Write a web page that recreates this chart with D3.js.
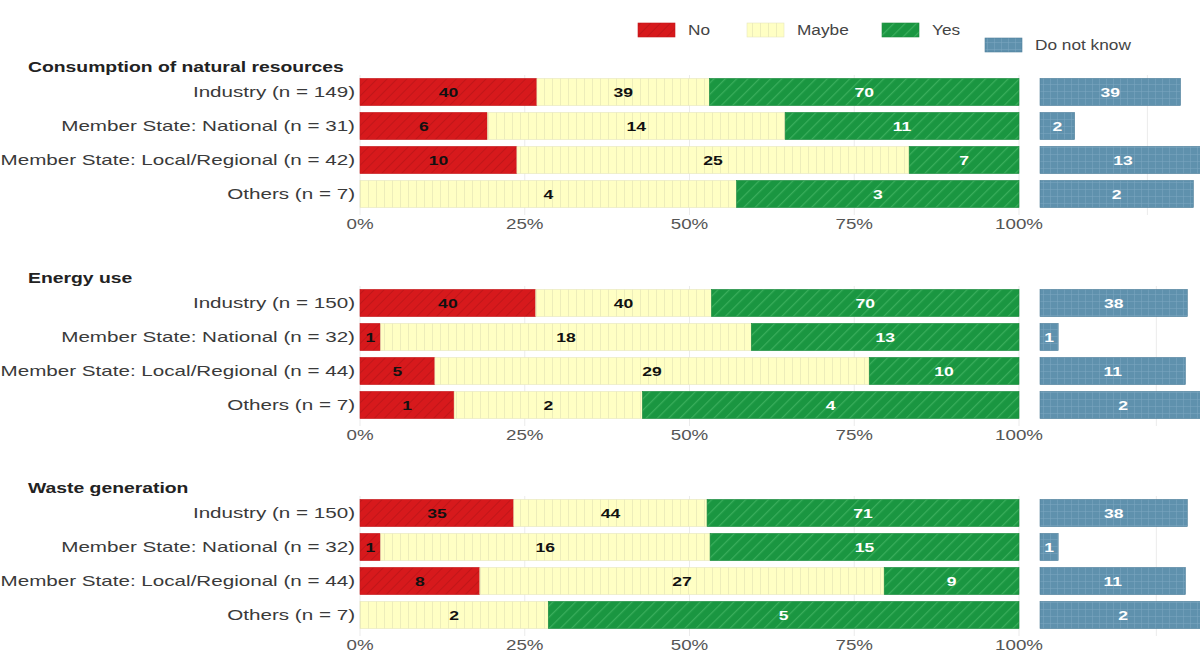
<!DOCTYPE html>
<html><head><meta charset="utf-8">
<script src="https://cdn.jsdelivr.net/npm/d3@7"></script>
<style>body{margin:0;background:#fff}svg{display:block;font-family:"Liberation Sans",Arial,sans-serif}</style>
</head><body><svg id="c" width="1200" height="651"></svg>
<script>
const panelTitles = ["Consumption of natural resources", "Energy use", "Waste generation"];
const groups = ["Industry", "Member State: National", "Member State: Local/Regional", "Others"];
const noValues    = [[40, 6, 10, 0], [40, 1, 5, 1], [35, 1, 8, 0]];
const maybeValues = [[39, 14, 25, 4], [40, 18, 29, 2], [44, 16, 27, 2]];
const yesValues   = [[70, 11, 7, 3], [70, 13, 10, 4], [71, 15, 9, 5]];
const dkValues    = [[39, 2, 13, 2], [38, 1, 11, 2], [38, 1, 11, 2]];
const responses = ["No", "Maybe", "Yes"];
const xTicks = [0, 0.25, 0.5, 0.75, 1];
const xTickLabels = ["0%", "25%", "50%", "75%", "100%"];

const svg = d3.select("#c");
const defs = svg.append("defs");
function stripe(id, bg, fg, spacing, angle, w) {
  const p = defs.append("pattern").attr("id", id).attr("patternUnits", "userSpaceOnUse")
    .attr("width", spacing).attr("height", spacing).attr("patternTransform", `rotate(${angle})`);
  p.append("rect").attr("width", spacing).attr("height", spacing).attr("fill", bg);
  p.append("line").attr("x1", 0).attr("y1", 0).attr("x2", 0).attr("y2", spacing).attr("stroke", fg).attr("stroke-width", w);
}
stripe("pNo", "#d7191c", "#b81418", 7, 45, 1.5);
stripe("pMaybe", "#ffffc4", "#dcdcb0", 8, 0, 1);
stripe("pYes", "#1a9641", "#3aae5c", 8, 45, 2.5);
(function(){
  const s = 7;
  const p = defs.append("pattern").attr("id", "pDK").attr("patternUnits", "userSpaceOnUse").attr("width", s).attr("height", s);
  p.append("rect").attr("width", s).attr("height", s).attr("fill", "#5f91ad");
  p.append("line").attr("x1", 0).attr("y1", 0).attr("x2", 0).attr("y2", s).attr("stroke", "#7ca8c2").attr("stroke-width", 1);
  p.append("line").attr("x1", 0).attr("y1", 0).attr("x2", s).attr("y2", 0).attr("stroke", "#7ca8c2").attr("stroke-width", 1);
})();
const fills = {No: "url(#pNo)", Maybe: "url(#pMaybe)", Yes: "url(#pYes)"};
const strokes = {No: "#c41a1c", Maybe: "#e6e6c0", Yes: "#1c8a3e"};
const labelColor = {No: "#111", Maybe: "#111", Yes: "#fff"};

// horizontally stretched text helper
function stext(g, x, y, str, o) {
  return g.append("text")
    .attr("transform", `translate(${x},${y}) scale(${o.sx},1)`)
    .attr("text-anchor", o.anchor || "start").attr("dy", "0.36em")
    .attr("font-size", o.size).attr("font-weight", o.bold ? "bold" : "normal")
    .attr("fill", o.fill).text(str);
}

const x = d3.scaleLinear().domain([0, 1]).range([360, 1019]);
const panelTop = [75, 286, 496];

panelTitles.forEach((title, pi) => {
  const g = svg.append("g");
  const n = groups.map((_, i) => noValues[pi][i] + maybeValues[pi][i] + yesValues[pi][i]);
  const labels = groups.map((gr, i) => `${gr} (n = ${n[i]})`);
  const y = d3.scaleBand().domain(labels).range([panelTop[pi], panelTop[pi] + 136]).paddingInner(0.2).paddingOuter(0.1);

  // grid
  g.selectAll("line.grid").data(xTicks).join("line")
    .attr("x1", d => x(d)).attr("x2", d => x(d))
    .attr("y1", panelTop[pi]).attr("y2", panelTop[pi] + 140)
    .attr("stroke", "#ebebeb").attr("stroke-width", 1);

  // title
  stext(g, 28, panelTop[pi] - 8, title, {sx: 1.29, size: 15, bold: true, fill: "#222"});

  // row labels
  labels.forEach(lab => {
    stext(g, 355, y(lab) + y.bandwidth() / 2, lab, {sx: 1.375, size: 15, fill: "#3a3a3a", anchor: "end"});
  });

  // stacked segments
  const vals = {No: noValues[pi], Maybe: maybeValues[pi], Yes: yesValues[pi]};
  labels.forEach((lab, i) => {
    let cum = 0;
    responses.forEach(r => {
      const v = vals[r][i];
      const f0 = cum / n[i], f1 = (cum + v) / n[i];
      cum += v;
      if (v === 0) return;
      g.append("rect").attr("x", x(f0)).attr("y", y(lab)).attr("width", x(f1) - x(f0)).attr("height", y.bandwidth())
        .attr("fill", fills[r]).attr("stroke", strokes[r]).attr("stroke-width", 0.6);
      stext(g, (x(f0) + x(f1)) / 2, y(lab) + y.bandwidth() / 2, v, {sx: 1.35, size: 13, bold: true, fill: labelColor[r], anchor: "middle"});
    });
  });

  // x axis labels
  xTicks.forEach((t, i) => {
    stext(g, x(t), panelTop[pi] + 149, xTickLabels[i], {sx: 1.25, size: 15, fill: "#555", anchor: "middle"});
  });

  // Do not know panel
  const dkFrac = dkValues[pi].map((v, i) => v / n[i]);
  const xd = d3.scaleLinear().domain([0, d3.max(dkFrac) * 1.05]).range([1040, 1214.5]);
  g.append("line").attr("x1", xd(0.2)).attr("x2", xd(0.2)).attr("y1", panelTop[pi]).attr("y2", panelTop[pi] + 140)
    .attr("stroke", "#ebebeb");
  labels.forEach((lab, i) => {
    g.append("rect").attr("x", xd(0)).attr("y", y(lab)).attr("width", xd(dkFrac[i]) - xd(0)).attr("height", y.bandwidth())
      .attr("fill", "url(#pDK)").attr("stroke", "#4f7f9a").attr("stroke-width", 0.6);
    stext(g, (xd(0) + xd(dkFrac[i])) / 2, y(lab) + y.bandwidth() / 2, dkValues[pi][i], {sx: 1.35, size: 13, bold: true, fill: "#fff", anchor: "middle"});
  });
});

// legend
const legend = [
  {k: "No", x: 638, y: 23, fill: "url(#pNo)", stroke: strokes.No},
  {k: "Maybe", x: 747, y: 23, fill: "url(#pMaybe)", stroke: strokes.Maybe},
  {k: "Yes", x: 882, y: 23, fill: "url(#pYes)", stroke: strokes.Yes},
  {k: "Do not know", x: 985, y: 38, fill: "url(#pDK)", stroke: "#4f7f9a"}
];
const lg = svg.append("g");
legend.forEach(l => {
  lg.append("rect").attr("x", l.x).attr("y", l.y).attr("width", 37).attr("height", 14).attr("fill", l.fill).attr("stroke", l.stroke).attr("stroke-width", 0.6);
  stext(lg, l.x + 50, l.y + 7, l.k, {sx: 1.15, size: 15, fill: "#444"});
});
</script></body></html>
